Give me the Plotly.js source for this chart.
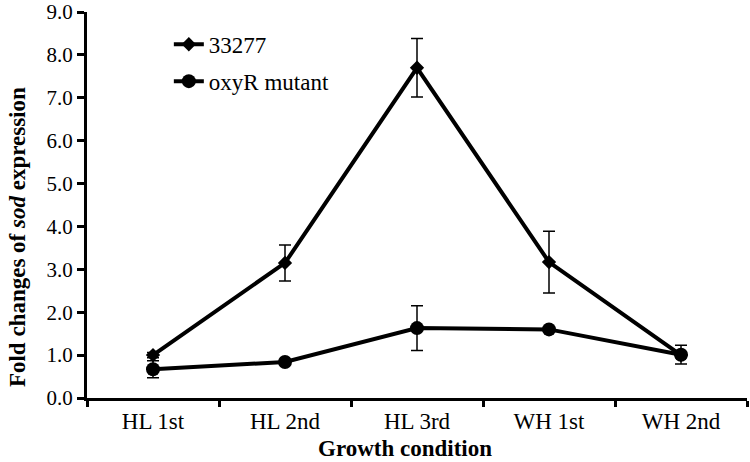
<!DOCTYPE html>
<html><head><meta charset="utf-8">
<script src="https://cdn.plot.ly/plotly-3.0.1.min.js"></script>
<style>body{margin:0;background:#fff}#c{width:750px;height:462px}</style>
</head><body><div id="c"></div>
<script>
const categories = ["HL 1st", "HL 2nd", "HL 3rd", "WH 1st", "WH 2nd"];
const wt = [1.0, 3.15, 7.7, 3.17, 1.0];
const wtErr = [0.06, 0.42, 0.68, 0.72, 0.06];
const mut = [0.67, 0.84, 1.63, 1.6, 1.01];
const mutErr = [0.2, 0.03, 0.52, 0.03, 0.22];
const yTicks = [0,1,2,3,4,5,6,7,8,9];
const yTickLabels = yTicks.map(v => v.toFixed(1));
const xTitle = "<b>Growth condition</b>";
const yTitle = "<b>Fold changes of <i>sod</i> expression</b>";

const font = "Liberation Serif, Times New Roman, serif";
const traces = [
  {x: categories, y: wt, name: "33277", type: "scatter", mode: "lines+markers",
   legendgroup: "a",
   line: {color: "#000", width: 4}, marker: {symbol: "diamond", size: 11, color: "#000"},
   error_y: {type: "data", array: wtErr, visible: true, color: "#000", thickness: 1.5, width: 6}},
  {x: categories, y: mut, name: "oxyR mutant", type: "scatter", mode: "lines+markers",
   legendgroup: "b",
   line: {color: "#000", width: 4}, marker: {symbol: "circle", size: 14, color: "#000"},
   error_y: {type: "data", array: mutErr, visible: true, color: "#000", thickness: 1.5, width: 6}}
];
const layout = {
  width: 750, height: 462,
  margin: {l: 87, r: 3, t: 12, b: 64},
  paper_bgcolor: "#fff", plot_bgcolor: "#fff",
  font: {family: font, color: "#000", size: 22},
  showlegend: true,
  legend: {x: 0.124, y: 0.972, xanchor: "left", yanchor: "top", bgcolor: "rgba(0,0,0,0)",
           font: {family: font, size: 23, color: "#000"}, tracegroupgap: 4, traceorder: "grouped"},
  xaxis: {type: "category", range: [-0.5, 4.5], tickson: "boundaries", ticks: "outside",
          ticklen: 6, tickwidth: 3, tickcolor: "#000", showline: true, linewidth: 3, linecolor: "#000",
          showgrid: false, zeroline: false, tickfont: {family: font, size: 23}},
  yaxis: {range: [0, 9.0001], tickvals: yTicks, ticktext: yTickLabels, ticks: "outside",
          ticklen: 7, tickwidth: 3, tickcolor: "#000", showline: true, linewidth: 3, linecolor: "#000",
          showgrid: false, zeroline: false, tickfont: {family: font, size: 21}, ticklabeloverflow: "allow"},
  annotations: [
    {text: xTitle, xref: "paper", yref: "paper", x: 0.482, y: -0.132, xanchor: "center", yanchor: "middle",
     showarrow: false, font: {family: font, size: 23, color: "#000"}},
    {text: yTitle, xref: "paper", yref: "paper", x: -0.106, y: 0.417, xanchor: "center", yanchor: "middle",
     textangle: -90, showarrow: false, font: {family: font, size: 23, color: "#000"}}
  ]
};
Plotly.newPlot("c", traces, layout, {displayModeBar: false, staticPlot: true});
</script></body></html>
